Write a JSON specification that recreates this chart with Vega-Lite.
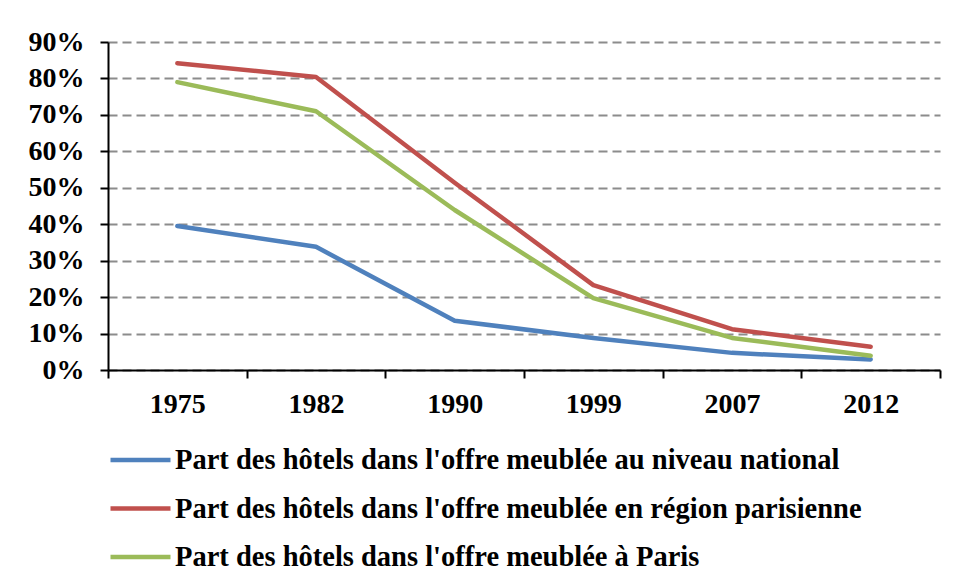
{
  "$schema": "https://vega.github.io/schema/vega-lite/v6.json",
  "width": 832,
  "height": 328,
  "autosize": {"type": "none"},
  "padding": {"left": 108, "top": 42, "right": 17, "bottom": 213},
  "background": "white",
  "data": {
    "values": [
      {"year": "1975", "series": "Part des hôtels dans l'offre meublée au niveau national", "value": 0.395},
      {"year": "1982", "series": "Part des hôtels dans l'offre meublée au niveau national", "value": 0.338},
      {"year": "1990", "series": "Part des hôtels dans l'offre meublée au niveau national", "value": 0.135},
      {"year": "1999", "series": "Part des hôtels dans l'offre meublée au niveau national", "value": 0.088},
      {"year": "2007", "series": "Part des hôtels dans l'offre meublée au niveau national", "value": 0.047},
      {"year": "2012", "series": "Part des hôtels dans l'offre meublée au niveau national", "value": 0.029},
      {"year": "1975", "series": "Part des hôtels dans l'offre meublée en région parisienne", "value": 0.842},
      {"year": "1982", "series": "Part des hôtels dans l'offre meublée en région parisienne", "value": 0.804},
      {"year": "1990", "series": "Part des hôtels dans l'offre meublée en région parisienne", "value": 0.514},
      {"year": "1999", "series": "Part des hôtels dans l'offre meublée en région parisienne", "value": 0.233},
      {"year": "2007", "series": "Part des hôtels dans l'offre meublée en région parisienne", "value": 0.112},
      {"year": "2012", "series": "Part des hôtels dans l'offre meublée en région parisienne", "value": 0.064},
      {"year": "1975", "series": "Part des hôtels dans l'offre meublée à Paris", "value": 0.79},
      {"year": "1982", "series": "Part des hôtels dans l'offre meublée à Paris", "value": 0.71},
      {"year": "1990", "series": "Part des hôtels dans l'offre meublée à Paris", "value": 0.439},
      {"year": "1999", "series": "Part des hôtels dans l'offre meublée à Paris", "value": 0.197},
      {"year": "2007", "series": "Part des hôtels dans l'offre meublée à Paris", "value": 0.088},
      {"year": "2012", "series": "Part des hôtels dans l'offre meublée à Paris", "value": 0.039}
    ]
  },
  "mark": {"type": "line", "strokeWidth": 4.5, "strokeCap": "round", "strokeJoin": "round"},
  "encoding": {
    "x": {
      "field": "year", "type": "ordinal", "title": null,
      "scale": {"type": "band", "paddingInner": 0, "paddingOuter": 0},
      "axis": {
        "labelAngle": 0, "tickBand": "extent", "tickSize": 8, "labelPadding": 12,
        "domainColor": "black", "domainWidth": 2, "tickColor": "black", "tickWidth": 2,
        "labelFont": "Liberation Serif", "labelFontWeight": "bold", "labelFontSize": 28, "labelColor": "black",
        "grid": false
      }
    },
    "y": {
      "field": "value", "type": "quantitative", "title": null,
      "scale": {"domain": [0, 0.9], "nice": false},
      "axis": {
        "values": [0, 0.1, 0.2, 0.3, 0.4, 0.5, 0.6, 0.7, 0.8, 0.9],
        "format": ".0%", "tickSize": 8, "labelPadding": 16,
        "domainColor": "black", "domainWidth": 2, "tickColor": "black", "tickWidth": 2,
        "labelFont": "Liberation Serif", "labelFontWeight": "bold", "labelFontSize": 28, "labelColor": "black",
        "grid": true, "gridColor": "#8c8c8c", "gridWidth": 2, "gridDash": [9, 5]
      }
    },
    "color": {
      "field": "series", "type": "nominal", "title": null,
      "sort": [
        "Part des hôtels dans l'offre meublée au niveau national",
        "Part des hôtels dans l'offre meublée en région parisienne",
        "Part des hôtels dans l'offre meublée à Paris"
      ],
      "scale": {"range": ["#4F81BD", "#C0504D", "#9BBB59"]},
      "legend": {
        "orient": "bottom", "direction": "vertical", "offset": 28,
        "symbolType": "stroke", "symbolSize": 3600, "symbolStrokeWidth": 4.5,
        "clipHeight": 28,
        "labelFont": "Liberation Serif", "labelFontWeight": "bold", "labelFontSize": 28.5, "labelColor": "black",
        "labelOffset": 2, "rowPadding": 19.5, "labelLimit": 900
      }
    }
  },
  "config": {"view": {"stroke": null}}
}
